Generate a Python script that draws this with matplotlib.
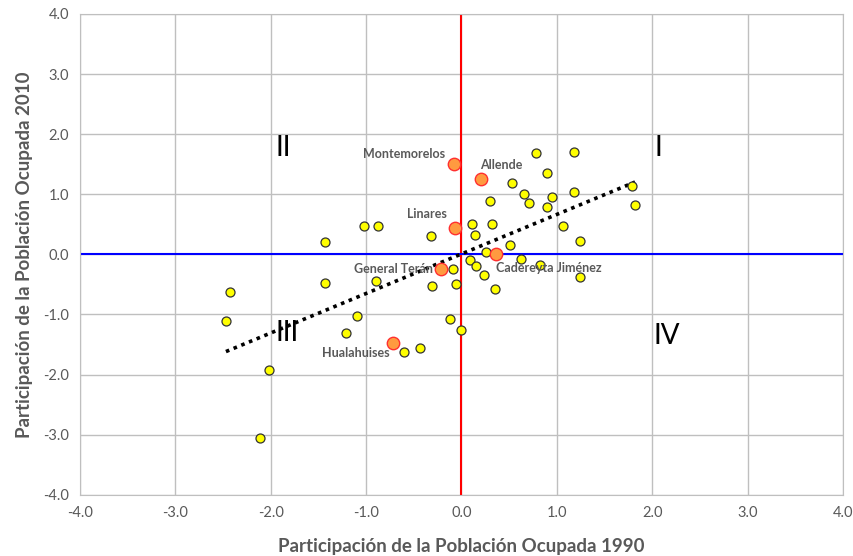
import matplotlib
matplotlib.use("Agg")
import matplotlib.pyplot as plt
import numpy as np

# Municipios (participación de la población ocupada, 1990 vs 2010)
x_otros = [-2.43, -2.47, -2.02, -2.11, -1.43, -1.43, -1.02, -0.88, -0.90, -1.10,
           -1.21, -0.60, -0.43, -0.32, -0.31, -0.09, -0.06, -0.12, 0.00,
           0.78, 1.18, 0.90, 0.53, 0.66, 1.18, 0.95, 0.71, 0.90, 0.30,
           1.79, 1.82, 0.11, 0.32, 0.14, 1.07, 1.24, 0.51, 0.26, 0.09,
           0.15, 0.24, 0.62, 0.82, 1.24, 0.35]
y_otros = [-0.63, -1.11, -1.93, -3.06, 0.20, -0.47, 0.47, 0.47, -0.45, -1.03,
           -1.31, -1.63, -1.55, 0.30, -0.53, -0.24, -0.49, -1.08, -1.26,
           1.69, 1.70, 1.36, 1.19, 1.01, 1.04, 0.96, 0.85, 0.79, 0.88,
           1.14, 0.82, 0.50, 0.51, 0.33, 0.48, 0.22, 0.15, 0.04, -0.10,
           -0.19, -0.34, -0.08, -0.18, -0.37, -0.58]

nombres = ["Montemorelos", "Allende", "Linares", "General Terán",
           "Cadereyta Jiménez", "Hualahuises"]
x_sel = [-0.08, 0.20, -0.07, -0.21, 0.36, -0.72]
y_sel = [1.51, 1.25, 0.44, -0.25, 0.00, -1.48]

cuadrantes = ["I", "II", "III", "IV"]
cuad_x = [2.07, -1.87, -1.83, 2.15]
cuad_y = [1.77, 1.77, -1.30, -1.36]

ticks = np.arange(-4, 4.01, 1)

plt.rcParams['font.family'] = ['Lato', 'DejaVu Sans']

fig = plt.figure(figsize=(8.54, 5.56), dpi=100)
ax = fig.add_axes([0.0937, 0.110, 0.8933, 0.865])

ax.set_xlim(-4, 4)
ax.set_ylim(-4, 4)
ax.set_xticks(ticks)
ax.set_yticks(ticks)
ax.set_xticklabels([f"{t:.1f}" for t in ticks])
ax.set_yticklabels([f"{t:.1f}" for t in ticks])
ax.grid(True, color='#bfbfbf', linewidth=1)
ax.set_axisbelow(True)
for s in ax.spines.values():
    s.set_color('#bfbfbf')
ax.tick_params(length=0, colors='#595959', labelsize=10.5, pad=8)

ax.axvline(0, color='red', linewidth=1.5, zorder=2)
ax.axhline(0, color='#0000ff', linewidth=1.5, zorder=2)

# tendencia lineal
x_all = np.array(x_otros + x_sel)
y_all = np.array(y_otros + y_sel)
m, b = np.polyfit(x_all, y_all, 1)
xt = np.array([x_all.min(), x_all.max()])
ax.plot(xt, m * xt + b, color='black', linestyle=(0, (1, 1.3)), linewidth=2.6,
        zorder=3)

ax.scatter(x_otros, y_otros, s=42, color='#ffff00', edgecolor='#333333',
           linewidth=0.9, zorder=4)
ax.scatter(x_sel, y_sel, s=80, color='#ff9a40', edgecolor='#ff3030',
           linewidth=1.0, zorder=5)

offsets = [(-6, 7, 'right'), (0, 10, 'left'), (-6, 10, 'right'),
           (-6, 0, 'right'), (0, -10, 'left'), (-2, -7, 'right')]
for n, xs, ys, (dx, dy, ha) in zip(nombres, x_sel, y_sel, offsets):
    ax.annotate(n, (xs, ys), xytext=(dx, dy), textcoords='offset points',
                ha=ha, va='center', fontsize=9, fontweight='bold',
                color='#595959', zorder=6)

for c, cx, cy in zip(cuadrantes, cuad_x, cuad_y):
    ax.text(cx, cy, c, fontsize=20, ha='center', va='center', color='black')

ax.set_xlabel("Participación de la Población Ocupada 1990", fontsize=13.5,
              fontweight='bold', color='#595959', labelpad=13)
ax.set_ylabel("Participación de la Población Ocupada 2010", fontsize=13.5,
              fontweight='bold', color='#595959', labelpad=7)

fig.savefig("out.png", dpi=100)
